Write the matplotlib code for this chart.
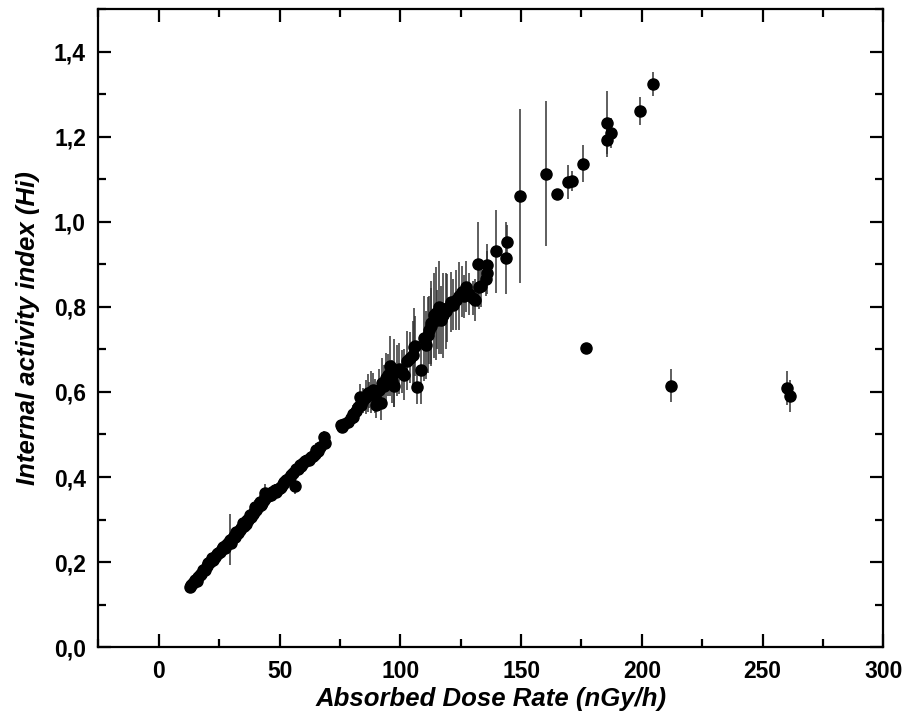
import matplotlib
matplotlib.use("Agg")
import matplotlib.pyplot as plt
from matplotlib.ticker import FuncFormatter, MultipleLocator

plt.rcParams["font.family"] = ["Liberation Sans", "DejaVu Sans"]

# absorbed dose rate (nGy/h), internal activity index Hi, and its uncertainty
dose_rate = [
    12.8, 13.5, 14.2, 14.9, 15.6, 16.3, 17.0, 17.6, 18.3, 19.0,
    19.8, 20.5, 21.2, 21.8, 22.5, 23.3, 24.0, 24.6, 25.3, 26.0,
    26.6, 27.2, 27.9, 28.5, 29.3, 29.8, 30.4, 31.0, 31.6, 32.1,
    32.8, 33.4, 34.0, 34.8, 35.3, 35.9, 36.5, 37.1, 37.6, 38.2,
    38.8, 39.4, 39.7, 40.3, 41.0, 41.7, 42.3, 42.9, 43.5, 43.8,
    44.5, 45.1, 45.7, 46.3, 47.0, 47.9, 48.6, 49.3, 50.0, 50.7,
    51.3, 52.0, 52.8, 53.4, 54.1, 54.8, 55.5, 56.2, 56.9, 57.6,
    58.3, 59.0, 59.7, 60.4, 61.2, 62.1, 62.8, 63.8, 64.5, 65.2,
    66.0, 66.8, 68.3, 68.6,
    75.5, 75.9, 76.8, 78.2, 79.6, 80.3, 80.3, 81.5, 82.3, 83.1,
    83.8, 83.8, 84.5, 85.8, 86.5, 87.2, 88.0, 88.6, 89.5, 90.0,
    91.3, 92.0, 92.6, 93.4, 94.1, 95.0, 95.7, 96.5, 97.5, 97.5,
    98.5, 99.5, 100.5, 101.7, 102.8, 104.0, 105.4, 105.8, 106.2, 106.7,
    108.5, 109.9, 110.6, 111.3, 112.0, 112.7, 112.7, 114.0, 114.7, 115.3,
    116.1, 116.8, 117.5, 118.9, 119.5, 120.9, 122.0, 123.0, 124.3, 125.7,
    126.5, 127.3, 128.5, 130.0, 131.0, 132.2, 132.6, 133.5, 135.4, 135.7,
    136.0, 139.4, 143.7, 144.2, 149.5, 160.3, 164.9, 169.4, 170.9, 175.7,
    185.7, 185.7, 187.2, 199.3, 204.7,
    176.7, 212.0, 260.0, 261.2,
]
hi_index = [
    0.141, 0.145, 0.150, 0.158, 0.155, 0.165, 0.170, 0.172, 0.181, 0.182,
    0.190, 0.197, 0.200, 0.209, 0.205, 0.212, 0.218, 0.222, 0.224, 0.230,
    0.236, 0.232, 0.240, 0.245, 0.252, 0.244, 0.255, 0.262, 0.258, 0.271,
    0.268, 0.275, 0.280, 0.291, 0.285, 0.290, 0.298, 0.300, 0.311, 0.305,
    0.312, 0.318, 0.330, 0.322, 0.330, 0.342, 0.335, 0.340, 0.347, 0.363,
    0.352, 0.355, 0.360, 0.358, 0.365, 0.369, 0.365, 0.372, 0.375, 0.377,
    0.383, 0.388, 0.393, 0.395, 0.400, 0.405, 0.410, 0.379, 0.418, 0.420,
    0.428, 0.425, 0.432, 0.437, 0.440, 0.440, 0.446, 0.449, 0.455, 0.464,
    0.462, 0.470, 0.493, 0.479,
    0.522, 0.518, 0.525, 0.530, 0.538, 0.549, 0.542, 0.555, 0.565, 0.589,
    0.573, 0.569, 0.580, 0.589, 0.598, 0.593, 0.600, 0.605, 0.590, 0.569,
    0.605, 0.573, 0.620, 0.613, 0.632, 0.640, 0.661, 0.625, 0.644, 0.614,
    0.650, 0.655, 0.648, 0.640, 0.674, 0.680, 0.687, 0.707, 0.708, 0.612,
    0.652, 0.726, 0.711, 0.734, 0.745, 0.762, 0.755, 0.781, 0.785, 0.770,
    0.799, 0.769, 0.780, 0.791, 0.797, 0.812, 0.805, 0.816, 0.826, 0.836,
    0.825, 0.848, 0.830, 0.820, 0.816, 0.900, 0.846, 0.850, 0.865, 0.881,
    0.899, 0.931, 0.915, 0.952, 1.062, 1.114, 1.067, 1.094, 1.097, 1.137,
    1.234, 1.194, 1.210, 1.261, 1.325,
    0.704, 0.615, 0.609, 0.591,
]
hi_error = [
    0.015, 0.008, 0.010, 0.012, 0.008, 0.010, 0.008, 0.010, 0.008, 0.010,
    0.010, 0.008, 0.010, 0.012, 0.010, 0.010, 0.010, 0.012, 0.010, 0.010,
    0.012, 0.010, 0.010, 0.012, 0.060, 0.012, 0.010, 0.012, 0.010, 0.012,
    0.010, 0.012, 0.012, 0.015, 0.012, 0.012, 0.012, 0.015, 0.012, 0.012,
    0.015, 0.012, 0.015, 0.012, 0.012, 0.015, 0.012, 0.015, 0.012, 0.020,
    0.015, 0.015, 0.012, 0.015, 0.015, 0.015, 0.012, 0.015, 0.015, 0.015,
    0.015, 0.015, 0.015, 0.015, 0.015, 0.015, 0.015, 0.020, 0.015, 0.015,
    0.015, 0.015, 0.015, 0.015, 0.015, 0.015, 0.015, 0.015, 0.015, 0.015,
    0.015, 0.015, 0.015, 0.015,
    0.010, 0.010, 0.012, 0.015, 0.015, 0.020, 0.015, 0.020, 0.020, 0.030,
    0.025, 0.020, 0.030, 0.040, 0.045, 0.030, 0.050, 0.040, 0.040, 0.030,
    0.050, 0.040, 0.060, 0.050, 0.060, 0.050, 0.070, 0.050, 0.080, 0.050,
    0.060, 0.060, 0.050, 0.060, 0.070, 0.060, 0.080, 0.090, 0.070, 0.040,
    0.080, 0.100, 0.080, 0.090, 0.080, 0.100, 0.090, 0.100, 0.110, 0.070,
    0.110, 0.080, 0.100, 0.090, 0.080, 0.070, 0.060, 0.070, 0.080, 0.060,
    0.050, 0.060, 0.050, 0.040, 0.050, 0.100, 0.050, 0.050, 0.040, 0.050,
    0.050, 0.097, 0.085, 0.040, 0.205, 0.171, 0.010, 0.041, 0.023, 0.044,
    0.075, 0.040, 0.035, 0.033, 0.028,
    0.005, 0.038, 0.040, 0.038,
]

fig = plt.figure(figsize=(9.06, 7.23), dpi=100)
ax = fig.add_axes([0.1087, 0.1051, 0.8663, 0.8818])

ax.errorbar(dose_rate, hi_index, yerr=hi_error, fmt="o", color="black",
            markersize=8, ecolor="#333333", elinewidth=1.1, capsize=0)

ax.set_xlim(-25, 300)
ax.set_ylim(0, 1.5)
ax.xaxis.set_major_locator(MultipleLocator(50))
ax.xaxis.set_minor_locator(MultipleLocator(25))
ax.yaxis.set_major_locator(MultipleLocator(0.2))
ax.yaxis.set_minor_locator(MultipleLocator(0.1))
ax.yaxis.set_major_formatter(FuncFormatter(lambda v, _: f"{v:.1f}".replace(".", ",")))

ax.tick_params(which="both", direction="in", top=True, right=True, width=1.6,
               labelsize=16.5, pad=9)
ax.tick_params(which="major", length=9.5)
ax.tick_params(which="minor", length=5.8)
for lbl in ax.get_xticklabels() + ax.get_yticklabels():
    lbl.set_fontweight("bold")
for sp in ax.spines.values():
    sp.set_linewidth(1.6)

ax.set_xlabel("Absorbed Dose Rate (nGy/h)", fontsize=18.5, fontweight="bold",
              fontstyle="italic", labelpad=3)
ax.set_ylabel("Internal activity index (Hi)", fontsize=18.5, fontweight="bold",
              fontstyle="italic", labelpad=10)

fig.savefig("out.png", dpi=100)
